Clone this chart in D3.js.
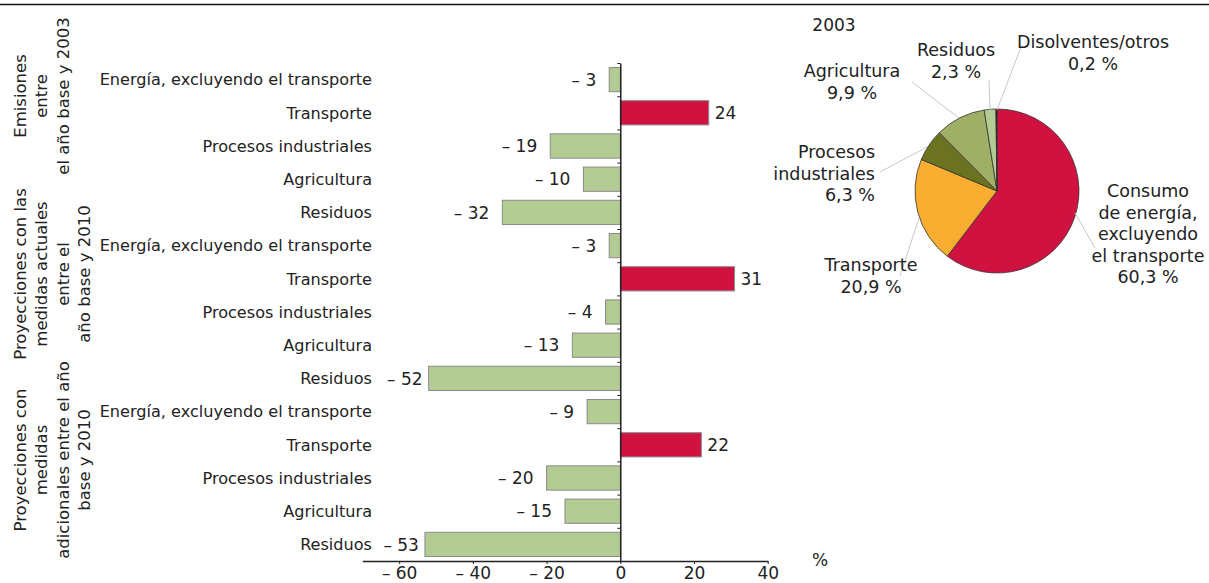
<!DOCTYPE html>
<html><head><meta charset="utf-8">
<script src="https://cdn.jsdelivr.net/npm/d3@7"></script>
<style>
body{margin:0;background:#fff;}
text{font-family:"DejaVu Sans",Verdana,sans-serif;fill:#222;}
</style></head>
<body>
<svg id="c" width="1209" height="583"></svg>
<script>
const categories = ["Energía, excluyendo el transporte","Transporte","Procesos industriales","Agricultura","Residuos"];
const emisiones2003 = [-3, 24, -19, -10, -32];
const proyActuales2010 = [-3, 31, -4, -13, -52];
const proyAdicionales2010 = [-9, 22, -20, -15, -53];
const groupLabels = [
  ["Emisiones","entre","el año base y 2003"],
  ["Proyecciones  con las","medidas actuales","entre el","año base y 2010"],
  ["Proyecciones con","medidas","adicionales entre el año","base y 2010"]
];
const xTicks = [-60, -40, -20, 0, 20, 40];
const pieLabels = ["Consumo de energía, excluyendo el transporte","Transporte","Procesos industriales","Agricultura","Residuos","Disolventes/otros"];
const pieValues = [60.3, 20.9, 6.3, 9.9, 2.3, 0.2];

const svg = d3.select("#c");
const fmt = v => v < 0 ? "– " + Math.abs(v) : String(v);

// top rule
svg.append("line").attr("x1",0).attr("x2",1209).attr("y1",4.5).attr("y2",4.5)
  .attr("stroke","#111").attr("stroke-width",1.5);

// bar data
const series = [emisiones2003, proyActuales2010, proyAdicionales2010];
const rows = [];
series.forEach((s,g)=> s.forEach((v,i)=> rows.push({g, i, cat:categories[i], v})));

const x = d3.scaleLinear().domain([-70,40]).range([362.3,767.7]);
const y = d3.scaleBand().domain(d3.range(rows.length)).range([63,561]).paddingInner(0.27).paddingOuter(0.135);
const yb = d3.scaleLinear().domain([0,rows.length]).range([63,561]);

// bars
svg.append("g").selectAll("rect").data(rows).enter().append("rect")
  .attr("x", (d)=> x(Math.min(0,d.v)))
  .attr("width", d=> Math.abs(x(d.v)-x(0)))
  .attr("y", (d,k)=> y(k))
  .attr("height", y.bandwidth())
  .attr("fill", d=> d.i===1 ? "#d01241" : "#b3cc93")
  .attr("stroke", "#8a8a8a")
  .attr("stroke-width",1);

// value labels
svg.append("g").selectAll("text").data(rows).enter().append("text")
  .attr("x", d=> d.v<0 ? x(d.v) - (d.v < -45 ? 6 : 13) : x(d.v)+6)
  .attr("y", (d,k)=> y(k)+y.bandwidth()/2)
  .attr("dy","0.36em")
  .attr("text-anchor", d=> d.v<0 ? "end":"start")
  .style("font-size","17px")
  .text(d=> fmt(d.v));

// category labels
svg.append("g").selectAll("text").data(rows).enter().append("text")
  .attr("x", 372)
  .attr("y", (d,k)=> y(k)+y.bandwidth()/2)
  .attr("dy","0.36em")
  .attr("text-anchor","end")
  .style("font-size","16.1px")
  .text(d=> d.cat);

// y axis with band-boundary ticks
const ya = svg.append("g").attr("transform",`translate(${x(0)},0)`)
  .call(d3.axisLeft(yb).tickValues(d3.range(0,rows.length)).tickSize(3).tickSizeOuter(0).tickFormat(""));
ya.select(".domain").attr("stroke","#222").attr("stroke-width",1.5);
ya.selectAll(".tick line").attr("stroke","#222");

// x axis
const xa = svg.append("g").attr("transform","translate(0,561)")
  .call(d3.axisBottom(x).tickValues(xTicks).tickSize(3).tickSizeOuter(0).tickFormat(fmt));
xa.select(".domain").attr("stroke","#222").attr("stroke-width",1.5);
xa.selectAll(".tick line").attr("stroke","#222");
xa.selectAll(".tick text").style("font-size","17px").attr("fill","#222").attr("y",6).attr("font-family","DejaVu Sans");

svg.append("text").attr("x",820).attr("y",566).attr("text-anchor","middle").style("font-size","17px").text("%");

// rotated group labels
const groupCenters = [96, 274, 460];
groupLabels.forEach((lines,gi)=>{
  const t = svg.append("text").attr("transform",`translate(0,${groupCenters[gi]}) rotate(-90)`)
    .attr("text-anchor","middle").style("font-size","16.5px");
  lines.forEach((ln,li)=> t.append("tspan").attr("x",0).attr("y",26 + li*21.3).text(ln));
});

// pie
const cx = 997, cy = 191, r = 82;
const pieColors = ["#d01241","#f9ae32","#6b7320","#a0af66","#b3cc93","#111111"];
const pie = d3.pie().sort(null).value(d=>d)(pieValues);
const arc = d3.arc().innerRadius(0).outerRadius(r);
const pg = svg.append("g").attr("transform",`translate(${cx},${cy})`);
pg.selectAll("path").data(pie).enter().append("path")
  .attr("d", arc).attr("fill",(d,i)=>pieColors[i])
  .attr("stroke","#333").attr("stroke-width",0.8);

svg.append("text").attr("x",834).attr("y",25).attr("dy","0.36em").attr("text-anchor","middle").style("font-size","17px").text("2003");

// leader lines
const leaders = [
  [[1075,213],[1095,248]],
  [[919,218],[900,276]],
  [[927,147],[880,172]],
  [[959,118],[912,82]],
  [[990,110],[989,80]],
  [[997,110],[1021,47]]
];
svg.append("g").selectAll("line").data(leaders).enter().append("line")
  .attr("x1",d=>d[0][0]).attr("y1",d=>d[0][1]).attr("x2",d=>d[1][0]).attr("y2",d=>d[1][1])
  .attr("stroke","#c8c8c8").attr("stroke-width",1);

const pct = v => String(v).replace(".",",") + " %";
const pieText = [
  {x:1148, y:191, a:"middle", lines:["Consumo","de energía,","excluyendo","el transporte"]},
  {x:871, y:265, a:"middle", lines:["Transporte"]},
  {x:875, y:152, a:"end", lines:["Procesos","industriales"]},
  {x:852, y:71, a:"middle", lines:["Agricultura"]},
  {x:956, y:50, a:"middle", lines:["Residuos"]},
  {x:1093, y:42, a:"middle", lines:["Disolventes/otros"]}
];
pieText.forEach((p,i)=>{
  const t = svg.append("text").attr("text-anchor",p.a).style("font-size","17.5px");
  const all = p.lines.concat([pct(pieValues[i])]);
  all.forEach((ln,li)=> t.append("tspan").attr("x",p.x).attr("y",p.y+li*21.5).attr("dy","0.36em").text(ln));
});
</script>
</body></html>
